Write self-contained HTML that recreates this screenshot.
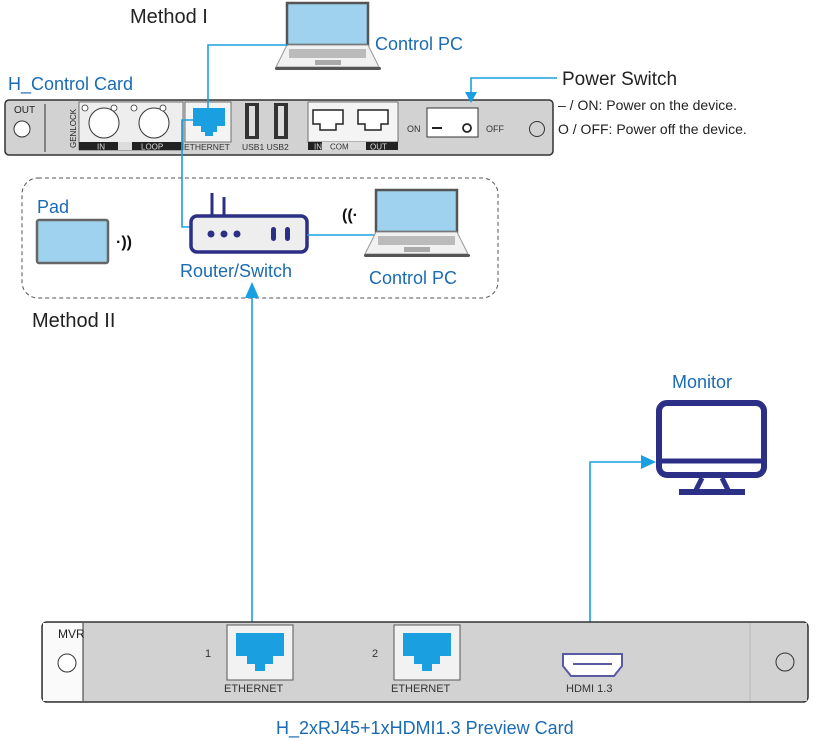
<!DOCTYPE html>
<html><head><meta charset="utf-8"><style>
html,body{margin:0;padding:0;background:#fff;}
svg{display:block;font-family:"Liberation Sans",sans-serif;}
</style></head><body>
<svg width="816" height="741" viewBox="0 0 816 741" xmlns="http://www.w3.org/2000/svg">
<defs>
<g id="laptop">
  <rect x="0" y="0" width="81" height="42" fill="#9fd2ef" stroke="#555" stroke-width="2.5"/>
  <path d="M0 42 L81 42 L92 64 L-11 64 Z" fill="#f1f1f1" stroke="#999" stroke-width="1"/>
  <rect x="2" y="46" width="77" height="9" fill="#bbb"/>
  <rect x="28" y="57" width="26" height="5" fill="#aaa"/>
  <rect x="-12" y="64" width="106" height="3" rx="1.5" fill="#555"/>
</g>
<g id="rj">
  <path d="M0 0 H32 V18 H24 V24 H20 V28 H12 V24 H8 V18 H0 Z" fill="#1aa0e0"/>
</g>
</defs>

<!-- texts -->
<text x="130" y="23" font-size="20" fill="#222">Method I</text>
<text x="375" y="50" font-size="18" fill="#1b6bb3">Control PC</text>
<text x="8" y="90" font-size="18" fill="#1b6bb3">H_Control Card</text>
<text x="562" y="85" font-size="19" fill="#222">Power Switch</text>
<text x="558" y="110" font-size="14" fill="#222">– / ON: Power on the device.</text>
<text x="558" y="134" font-size="14" fill="#222">O / OFF: Power off the device.</text>

<!-- laptop 1 -->
<use href="#laptop" x="287" y="3"/>

<!-- top card -->
<rect x="5" y="100" width="548" height="55" rx="4" fill="#d2d2d2" stroke="#333" stroke-width="1.5"/>
<line x1="45" y1="104" x2="45" y2="152" stroke="#333"/>
<text x="14" y="113" font-size="10" fill="#222">OUT</text>
<circle cx="22" cy="129" r="8" fill="#fff" stroke="#333"/>
<text x="76" y="148" font-size="8" fill="#222" transform="rotate(-90 76 148)">GENLOCK</text>
<rect x="79" y="102" width="104" height="48" fill="#eee" stroke="#555" stroke-width="0.8"/>
<circle cx="104" cy="123" r="15" fill="#fff" stroke="#333"/>
<circle cx="154" cy="123" r="15" fill="#fff" stroke="#333"/>
<circle cx="85" cy="108" r="3" fill="#fff" stroke="#333" stroke-width="0.8"/>
<circle cx="114" cy="108" r="3" fill="#fff" stroke="#333" stroke-width="0.8"/>
<circle cx="134" cy="108" r="3" fill="#fff" stroke="#333" stroke-width="0.8"/>
<circle cx="163" cy="108" r="3" fill="#fff" stroke="#333" stroke-width="0.8"/>
<rect x="79" y="142" width="104" height="8" fill="#222"/>
<rect x="118" y="142" width="14" height="8" fill="#ddd"/>
<text x="97" y="149.5" font-size="8" fill="#ddd">IN</text>
<text x="141" y="149.5" font-size="8" fill="#ddd">LOOP</text>
<rect x="185" y="102" width="46" height="40" fill="#f4f4f4" stroke="#555" stroke-width="0.8"/>
<use href="#rj" x="193" y="108"/>
<text x="184" y="150" font-size="8.5" fill="#333">ETHERNET</text>
<rect x="245" y="103" width="14" height="36" fill="#333"/><rect x="249" y="106" width="6" height="30" fill="#ddd"/>
<rect x="274" y="103" width="14" height="36" fill="#333"/><rect x="278" y="106" width="6" height="30" fill="#ddd"/>
<text x="242" y="150" font-size="8.5" fill="#333">USB1 USB2</text>
<rect x="308" y="102" width="90" height="40" fill="#f4f4f4" stroke="#555" stroke-width="0.8"/>
<path d="M313 110 H343 V124 H336 V130 H320 V124 H313 Z" fill="#fff" stroke="#222" stroke-width="1.5"/>
<path d="M358 110 H388 V124 H381 V130 H365 V124 H358 Z" fill="#fff" stroke="#222" stroke-width="1.5"/>
<rect x="308" y="142" width="90" height="8" fill="#222"/>
<rect x="322" y="142" width="44" height="8" fill="#ddd"/>
<text x="314" y="149.5" font-size="8" fill="#ddd">IN</text>
<text x="330" y="149.5" font-size="8" fill="#333">COM</text>
<text x="370" y="149.5" font-size="8" fill="#ddd">OUT</text>
<text x="407" y="132" font-size="9" fill="#333">ON</text>
<rect x="427" y="108" width="51" height="29" fill="#fff" stroke="#333"/>
<line x1="432" y1="128" x2="442" y2="128" stroke="#222" stroke-width="2"/>
<circle cx="467" cy="128" r="4" fill="none" stroke="#222" stroke-width="1.8"/>
<text x="486" y="132" font-size="9" fill="#333">OFF</text>
<circle cx="537" cy="129" r="7.5" fill="none" stroke="#333"/>

<!-- connectors top -->
<polyline points="288,45 208,45 208,120" fill="none" stroke="#1aa0e0" stroke-width="1.6"/>
<polyline points="557,78 471,78 471,100" fill="none" stroke="#1aa0e0" stroke-width="1.6"/>
<path d="M465 92 L477 92 L471 103 Z" fill="#1aa0e0"/>
<polyline points="193,120 182,120 182,227 191,227" fill="none" stroke="#1aa0e0" stroke-width="1.6"/>

<!-- method II box -->
<rect x="22" y="178" width="476" height="120" rx="16" fill="none" stroke="#555" stroke-width="1" stroke-dasharray="4,3"/>
<text x="37" y="213" font-size="18" fill="#1b6bb3">Pad</text>
<rect x="37" y="220" width="71" height="43" rx="2" fill="#9fd2ef" stroke="#666" stroke-width="2.5"/>
<text x="116" y="247" font-size="16" fill="#111" font-weight="bold">·))</text>
<text x="342" y="220" font-size="16" fill="#111" font-weight="bold">((·</text>
<line x1="212" y1="193" x2="212" y2="216" stroke="#2b2f86" stroke-width="3"/>
<line x1="224" y1="197" x2="224" y2="216" stroke="#2b2f86" stroke-width="3"/>
<rect x="191" y="216" width="116" height="36" rx="6" fill="#eeeeee" stroke="#2b2f86" stroke-width="3.5"/>
<circle cx="211" cy="234" r="3.5" fill="#2b2f86"/><circle cx="224" cy="234" r="3.5" fill="#2b2f86"/><circle cx="237" cy="234" r="3.5" fill="#2b2f86"/>
<rect x="271" y="227" width="5" height="14" rx="2.5" fill="#2b2f86"/><rect x="285" y="227" width="5" height="14" rx="2.5" fill="#2b2f86"/>
<line x1="307" y1="235" x2="375" y2="235" stroke="#1aa0e0" stroke-width="1.6"/>
<use href="#laptop" x="376" y="190"/>
<text x="180" y="277" font-size="18" fill="#1b6bb3">Router/Switch</text>
<text x="369" y="284" font-size="18" fill="#1b6bb3">Control PC</text>
<text x="32" y="327" font-size="20" fill="#222">Method II</text>

<!-- vertical arrow -->
<line x1="252" y1="625" x2="252" y2="295" stroke="#1aa0e0" stroke-width="1.6"/>
<path d="M245 298 L259 298 L252 282 Z" fill="#1aa0e0"/>

<!-- monitor -->
<text x="672" y="388" font-size="18" fill="#1b6bb3">Monitor</text>
<rect x="659" y="403" width="105" height="72" rx="8" fill="#fff" stroke="#2b2f86" stroke-width="6"/>
<line x1="659" y1="461" x2="764" y2="461" stroke="#2b2f86" stroke-width="5"/>
<path d="M702 478 L696 490 M722 478 L728 490" stroke="#2b2f86" stroke-width="5"/>
<rect x="679" y="489" width="66" height="6" fill="#2b2f86"/>
<polyline points="590,655 590,462 645,462" fill="none" stroke="#1aa0e0" stroke-width="1.6"/>
<path d="M641 455 L656 462 L641 469 Z" fill="#1aa0e0"/>

<!-- bottom card -->
<rect x="42" y="622" width="766" height="80" rx="5" fill="#d2d2d2" stroke="#333" stroke-width="1.5"/>
<rect x="43" y="623" width="40" height="78" fill="#fafafa"/>
<line x1="83" y1="623" x2="83" y2="701" stroke="#333"/>
<line x1="750" y1="623" x2="750" y2="701" stroke="#bbb"/>
<rect x="751" y="623" width="56" height="78" fill="#d2d2d2"/>
<text x="58" y="638" font-size="12" fill="#222">MVR</text>
<circle cx="67" cy="663" r="9" fill="#fff" stroke="#333"/>
<circle cx="785" cy="662" r="9" fill="none" stroke="#333"/>
<text x="205" y="657" font-size="11" fill="#333">1</text>
<rect x="227" y="625" width="66" height="55" fill="#f2f2f2" stroke="#555"/>
<path d="M236 633 H284 V656 H273 V664 H265 V671 H255 V664 H247 V656 H236 Z" fill="#1aa0e0"/>
<text x="224" y="692" font-size="11" fill="#333">ETHERNET</text>
<text x="372" y="657" font-size="11" fill="#333">2</text>
<rect x="394" y="625" width="66" height="55" fill="#f2f2f2" stroke="#555"/>
<path d="M403 633 H451 V656 H440 V664 H432 V671 H422 V664 H414 V656 H403 Z" fill="#1aa0e0"/>
<text x="391" y="692" font-size="11" fill="#333">ETHERNET</text>
<path d="M563 654 H622 V666 L614 676 H571 L563 666 Z" fill="#fff" stroke="#5a5aa0" stroke-width="2"/>
<line x1="573" y1="664" x2="612" y2="664" stroke="#5a5aa0" stroke-width="2"/>
<text x="566" y="692" font-size="11" fill="#333">HDMI 1.3</text>
<text x="276" y="734" font-size="18" fill="#1b6bb3">H_2xRJ45+1xHDMI1.3 Preview Card</text>
</svg>
</body></html>
